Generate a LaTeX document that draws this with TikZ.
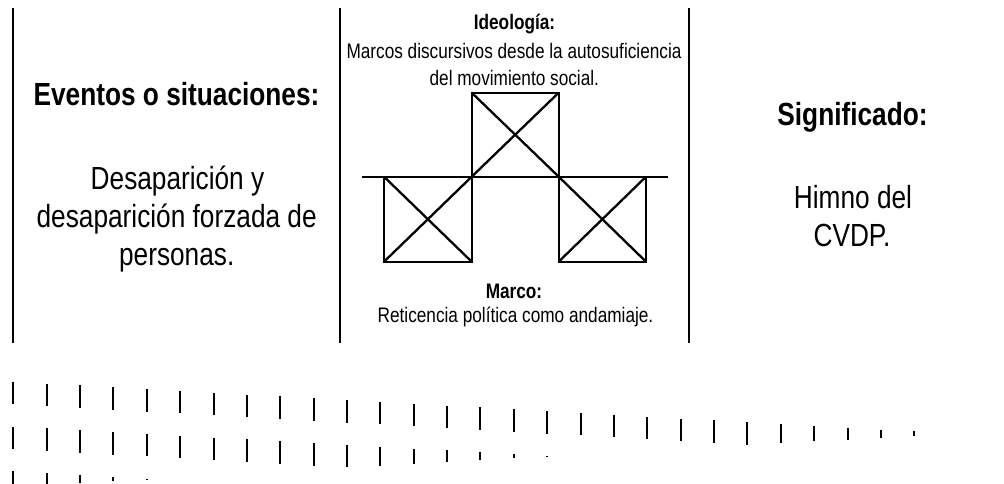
\documentclass[tikz,border=0pt]{standalone}
\usepackage{fontspec}
\setmainfont{Liberation Sans}[FakeStretch=0.82]
\begin{document}
\begin{tikzpicture}[x=1pt,y=-1pt]
\tikzset{
  txt/.style={font=\fontsize{32}{38}\selectfont, anchor=base, inner sep=0pt},
  txtb/.style={font=\fontsize{32}{38}\selectfont\bfseries, anchor=base, inner sep=0pt},
  sm/.style={font=\fontsize{21}{25}\selectfont, anchor=base, inner sep=0pt},
  smb/.style={font=\fontsize{21}{25}\selectfont\bfseries, anchor=base, inner sep=0pt},
  rulel/.style={line width=2pt},
  scaf/.style={line width=2.3pt, line join=miter},
  tickl/.style={line width=2pt}
}
\useasboundingbox (0,0) rectangle (1004,484);
\clip (0,0) rectangle (1004,484);
\fill[white] (0,0) rectangle (1004,484);

% column rules
\coordinate (r1t) at (13,8);    \coordinate (r1b) at (13,343);
\coordinate (r2t) at (339.5,8); \coordinate (r2b) at (339.5,343);
\coordinate (r3t) at (689.3,8); \coordinate (r3b) at (689.3,343);
\draw[rulel] (r1t) -- (r1b);
\draw[rulel] (r2t) -- (r2b);
\draw[rulel] (r3t) -- (r3b);

% left column
\node[txtb] (ev) at (176.5,106) {Eventos o situaciones:};
\node[txt] (l1) at (177.5,189.3) {Desaparición y};
\node[txt] (l2) at (176.7,227.3) {desaparición forzada de};
\node[txt] (l3) at (176.7,265.3) {personas.};

% middle column
\node[smb] (ideo) at (514.5,30) {Ideología:};
\node[sm] (m1) at (514,58.5) {Marcos discursivos desde la autosuficiencia};
\node[sm] (m2) at (514.3,85.5) {del movimiento social.};
\node[smb] (marco) at (514,298.3) {Marco:};
\node[sm] (m3) at (515.5,322.7) {Reticencia política como andamiaje.};

% scaffold
\coordinate (hl) at (362.3,176.7); \coordinate (hr) at (667.7,176.7);
\draw[scaf] (hl) -- (hr);
\coordinate (ta) at (471.7,92.7);  \coordinate (tb) at (558.7,176.7);
\coordinate (la) at (384,176.7);   \coordinate (lb) at (471.7,261.7);
\coordinate (ra) at (558.7,176.7); \coordinate (rb) at (646,261.7);
\foreach \a/\b in {ta/tb,la/lb,ra/rb}{
  \draw[scaf] (\a) rectangle (\b);
  \draw[scaf] (\a) -- (\b);
  \draw[scaf] (\a |- \b) -- (\b |- \a);
}

% right column
\node[txtb] (sig) at (852.5,126) {Significado:};
\node[txt] (h1) at (853,208.3) {Himno del};
\node[txt] (h2) at (852,246.7) {CVDP.};

% tick pattern
\foreach \r in {0,1,2}{
  \foreach \k in {0,...,27}{
    \pgfmathsetmacro{\tp}{381.7+44.8*\r+1.84*\k}
    \pgfmathsetmacro{\bt}{min(\tp+22.5,486.6-1.88*\k)}
    \pgfmathtruncatemacro{\ok}{(\bt-\tp)>0.2}
    \ifnum\ok=1
      \draw[tickl] (13.3+33.37*\k,\tp) -- (13.3+33.37*\k,\bt);
    \fi
  }
}
\end{tikzpicture}
\end{document}
